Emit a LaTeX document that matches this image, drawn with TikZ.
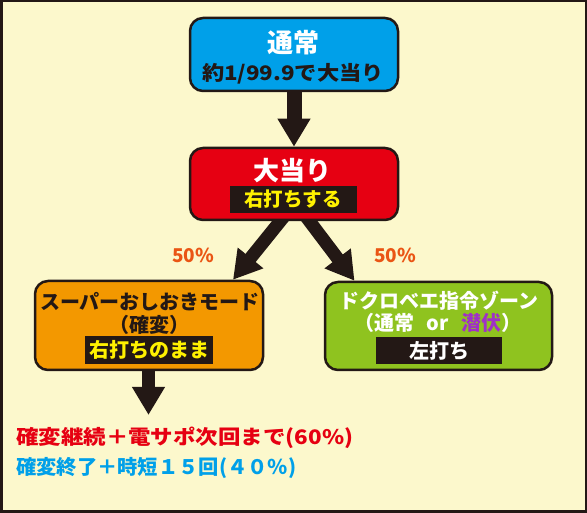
\documentclass[tikz,border=0pt]{standalone}
\usepackage{fontspec}
\setmainfont{Noto Sans CJK JP}
\usepackage{graphicx}
\usetikzlibrary{arrows.meta}
\definecolor{bgc}{HTML}{FCF8CC}
\definecolor{dk}{HTML}{231815}
\definecolor{bluebox}{HTML}{00A0E9}
\definecolor{redbox}{HTML}{E60012}
\definecolor{orangebox}{HTML}{F39800}
\definecolor{greenbox}{HTML}{8FC31F}
\definecolor{yel}{HTML}{FFF100}
\definecolor{pct}{HTML}{EA5514}
\definecolor{purp}{HTML}{A030C8}
\pgfdeclarelayer{back}
\pgfdeclarelayer{arrowlayer}
\pgfsetlayers{back,arrowlayer,main}
\begin{document}
\begin{tikzpicture}[x=1pt,y=-1pt,
  box/.style={draw=dk, line width=2.5pt, rounded corners=13pt, inner sep=0pt},
  lbl/.style={fill=dk, inner sep=0pt},
  txt/.style={inner sep=0pt, font=\bfseries\fontsize{20}{24}\selectfont},
  big/.style={inner sep=0pt, font=\bfseries\fontsize{26}{30}\selectfont},
  pctlbl/.style={inner sep=0pt, text=pct, font=\bfseries\fontsize{19}{22}\selectfont},
  fat/.style={color=dk, -{Triangle[width=31pt,length=28pt]}},
]
\useasboundingbox (0,0) rectangle (587,513);
\begin{pgfonlayer}{back}
\fill[bgc] (0,0) rectangle (587,513);
\draw[dk, line width=2.5pt] (1.25,1.25) rectangle (585.75,511.5);
\end{pgfonlayer}

% boxes
\node[box, fill=bluebox, minimum width=208pt, minimum height=73pt] (top) at (294,54.5) {};
\node[box, fill=redbox, minimum width=208pt, minimum height=72pt] (red) at (294,184) {};
\node[box, fill=orangebox, minimum width=228pt, minimum height=89pt] (left) at (149,325.5) {};
\node[box, fill=greenbox, minimum width=227pt, minimum height=88pt] (right) at (438.5,326) {};

% label bars
\node[lbl, minimum width=127pt, minimum height=27pt] (redlbl) at (293.5,199.5) {};
\node[lbl, minimum width=128pt, minimum height=28pt] (leftlbl) at (149,350) {};
\node[lbl, minimum width=126pt, minimum height=27pt] (rightlbl) at (439,350.5) {};

% texts
\node[big, text=white] (t1) at (293,43) {通常};
\node[txt, text=dk] (t2) at (293,74) {\resizebox{182pt}{\height}{約1/99.9で大当り}};
\node[big, text=white] (t3) at (292,171) {大当り};
\node[txt, text=yel, font=\bfseries\fontsize{19.5}{22}\selectfont] (t4) at (293,199.5) {右打ちする};
\node[txt, text=dk] (t5) at (150,302) {スーパーおしおきモード};
\node[txt, text=dk] (t6) at (149,324.5) {（確変）};
\node[txt, text=yel] (t7) at (149,350) {右打ちのまま};
\node[txt, text=white] (t8) at (439,301) {ドクロベエ指令ゾーン};
\node[txt, text=white] (t9) at (438,323) {（通常\hspace{12pt}or\hspace{12pt}\textcolor{purp}{潜伏}）};
\node[txt, text=white] (t10) at (439,350.5) {左打ち};

\node[pctlbl] (p1) at (193,255) {50\%};
\node[pctlbl] (p2) at (395,255) {50\%};

\node[txt, text=redbox, anchor=west] (r1) at (16,438) {\resizebox{337pt}{\height}{確変継続＋電サポ次回まで(60\%)}};
\node[txt, text=bluebox, anchor=west] (r2) at (16,467.5) {\resizebox{280pt}{\height}{確変終了＋時短１５回(４０％)}};

\coordinate (endpt) at (148.5,415);

% arrows
\begin{pgfonlayer}{arrowlayer}
\draw[fat, line width=15pt] ([yshift=4pt]top.south) -- (red.north);
\draw[fat, line width=13pt] ([xshift=-9pt,yshift=6pt]red.south) -- ([xshift=84pt]left.north);
\draw[fat, line width=13pt] ([xshift=11pt,yshift=6pt]red.south) -- ([xshift=-84pt]right.north);
\draw[fat, line width=13pt] ([xshift=-0.5pt,yshift=4pt]left.south) -- (endpt);
\end{pgfonlayer}
\end{tikzpicture}
\end{document}
